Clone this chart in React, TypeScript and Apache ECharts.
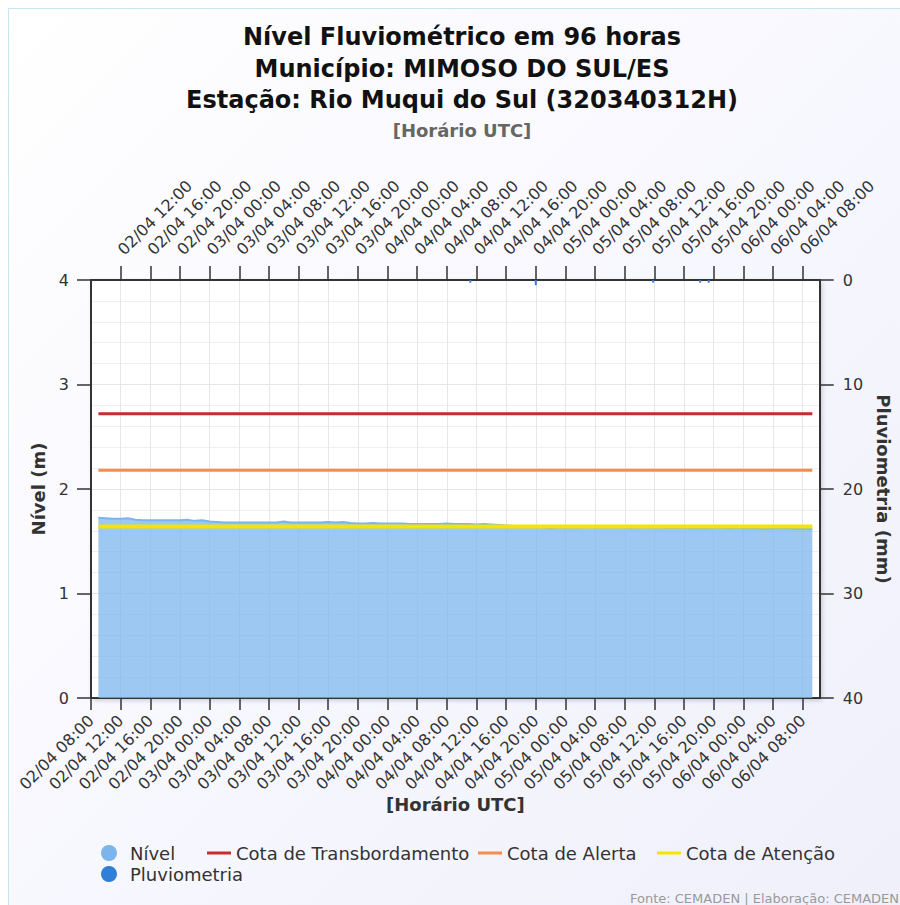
import React, { useEffect, useRef } from "react";
import * as echarts from "echarts";

// ---- data ----
const tickHours = [0, 4, 8, 12, 16, 20, 24, 28, 32, 36, 40, 44, 48, 52, 56, 60, 64, 68, 72, 76, 80, 84, 88, 92, 96];
const tickLabels = [
  "02/04 08:00", "02/04 12:00", "02/04 16:00", "02/04 20:00",
  "03/04 00:00", "03/04 04:00", "03/04 08:00", "03/04 12:00", "03/04 16:00", "03/04 20:00",
  "04/04 00:00", "04/04 04:00", "04/04 08:00", "04/04 12:00", "04/04 16:00", "04/04 20:00",
  "05/04 00:00", "05/04 04:00", "05/04 08:00", "05/04 12:00", "05/04 16:00", "05/04 20:00",
  "06/04 00:00", "06/04 04:00", "06/04 08:00",
];

// river level (m): hours since 02/04 08:00 and values
const nivelHours = [
  1, 2, 3, 4, 5, 6, 7, 8, 9, 10,
  11, 12, 13, 14, 15, 16, 17, 18, 19, 20,
  21, 22, 23, 24, 25, 26, 27, 28, 29, 30,
  31, 32, 33, 34, 35, 36, 37, 38, 39, 40,
  41, 42, 43, 44, 45, 46, 47, 48, 49, 50,
  51, 52, 53, 54, 55, 56, 57, 58, 59, 60,
  61, 62, 63, 64, 65, 66, 67, 68, 69, 70,
  71, 72, 73, 74, 75, 76, 77, 78, 79, 80,
  81, 82, 83, 84, 85, 86, 87, 88, 89, 90,
  91, 92, 93, 94, 95, 96, 97, 97.3,
];
const nivelValues = [
  1.725, 1.72, 1.715, 1.715, 1.72, 1.705, 1.7, 1.7, 1.7, 1.7,
  1.7, 1.7, 1.705, 1.695, 1.7, 1.69, 1.685, 1.68, 1.68, 1.68,
  1.68, 1.68, 1.68, 1.68, 1.68, 1.69, 1.68, 1.68, 1.68, 1.68,
  1.68, 1.685, 1.68, 1.685, 1.675, 1.67, 1.67, 1.675, 1.67, 1.67,
  1.67, 1.67, 1.665, 1.665, 1.665, 1.665, 1.665, 1.67, 1.665, 1.665,
  1.665, 1.66, 1.665, 1.66, 1.655, 1.65, 1.645, 1.645, 1.64, 1.64,
  1.635, 1.625, 1.635, 1.635, 1.628, 1.635, 1.64, 1.635, 1.635, 1.635,
  1.635, 1.635, 1.63, 1.635, 1.635, 1.635, 1.63, 1.63, 1.63, 1.63,
  1.625, 1.625, 1.625, 1.63, 1.63, 1.625, 1.63, 1.625, 1.625, 1.625,
  1.62, 1.625, 1.625, 1.625, 1.62, 1.62, 1.62, 1.62,
];

const cotaTransbordamento = 2.72;
const cotaAlerta = 2.18;
const cotaAtencao = 1.64;

// rainfall (mm)
const chuvaHours = [51.17, 60.0, 75.83, 82.17, 83.33];
const chuvaValues = [0.25, 0.5, 0.25, 0.25, 0.25];

const FONT = "'DejaVu Sans', sans-serif";

export default function App() {
  const ref = useRef<HTMLDivElement>(null);

  useEffect(() => {
    if (!ref.current) return;
    const chart = echarts.init(ref.current, undefined, { renderer: "svg" });

    const nivelData = nivelHours.map((h, i) => [h, nivelValues[i]]);
    const firstH = nivelHours[0];
    const lastH = nivelHours[nivelHours.length - 1];
    const flat = (v: number) => [[firstH, v], [lastH, v]];
    const chuvaData = chuvaHours.map((h, i) => [h, chuvaValues[i]]);

    const fmt = (v: number) => {
      const idx = tickHours.indexOf(Math.round(v));
      return idx >= 0 ? tickLabels[idx] : "";
    };

    const linePath = "path://M0,0L24,0L24,3L0,3Z";
    const legendBase = {
      orient: "horizontal",
      itemWidth: 24,
      itemHeight: 16,
      itemGap: 0,
      padding: 0,
      selectedMode: false,
      itemStyle: { borderWidth: 0 },
      textStyle: { fontSize: 18, color: "#333", fontFamily: FONT },
    };

    const option: any = {
      animation: false,
      textStyle: { fontFamily: FONT },
      grid: {
        left: 82,
        right: 78,
        top: 271,
        bottom: 207,
        show: true,
        backgroundColor: "#ffffff",
        borderWidth: 0,
        shadowColor: "rgba(0,0,0,0.22)",
        shadowBlur: 5,
        shadowOffsetX: 2,
        shadowOffsetY: 2,
      },
      xAxis: [
        {
          type: "value",
          position: "bottom",
          min: 0,
          max: 98.3,
          interval: 4,
          axisLine: { show: true, onZero: false, lineStyle: { color: "#333", width: 2 } },
          axisTick: { show: true, length: 12, customValues: tickHours, lineStyle: { color: "#333", width: 1.5 } },
          axisLabel: {
            customValues: tickHours,
            rotate: 45,
            margin: 20,
            fontSize: 16,
            color: "#333",
            fontFamily: FONT,
            formatter: fmt,
          },
          splitLine: { show: true, lineStyle: { color: "#e6e6e6", width: 1 } },
          name: "[Horário UTC]",
          nameLocation: "middle",
          nameGap: 96,
          nameTextStyle: { fontSize: 18, fontWeight: "bold", color: "#333", fontFamily: FONT },
        },
        {
          type: "value",
          position: "top",
          min: 0,
          max: 98.3,
          interval: 4,
          axisLine: { show: true, onZero: false, lineStyle: { color: "#333", width: 2 } },
          axisTick: { show: true, length: 14, customValues: tickHours.slice(1), lineStyle: { color: "#333", width: 1.5 } },
          axisLabel: {
            customValues: tickHours.slice(1),
            rotate: -45,
            margin: 28,
            fontSize: 16,
            color: "#333",
            fontFamily: FONT,
            formatter: fmt,
          },
          splitLine: { show: false },
        },
      ],
      yAxis: [
        {
          type: "value",
          position: "left",
          min: 0,
          max: 4,
          interval: 1,
          axisLine: { show: true, onZero: false, lineStyle: { color: "#333", width: 2 } },
          axisTick: { show: true, length: 14, lineStyle: { color: "#333", width: 1.5 } },
          axisLabel: { margin: 22, fontSize: 16, color: "#333", fontFamily: FONT },
          splitLine: { show: true, lineStyle: { color: "#e6e6e6", width: 1 } },
          minorTick: { show: false, splitNumber: 5 },
          minorSplitLine: { show: true, lineStyle: { color: "#efefef", width: 1 } },
          name: "Nível (m)",
          nameLocation: "middle",
          nameGap: 42,
          nameTextStyle: { fontSize: 18, fontWeight: "bold", color: "#333", fontFamily: FONT },
        },
        {
          type: "value",
          position: "right",
          min: 0,
          max: 40,
          interval: 10,
          inverse: true,
          axisLine: { show: true, onZero: false, lineStyle: { color: "#333", width: 2 } },
          axisTick: { show: true, length: 14, lineStyle: { color: "#333", width: 1.5 } },
          axisLabel: { margin: 23, fontSize: 16, color: "#333", fontFamily: FONT },
          splitLine: { show: false },
          name: "Pluviometria (mm)",
          nameLocation: "middle",
          nameRotate: -90,
          nameGap: 53,
          nameTextStyle: { fontSize: 18, fontWeight: "bold", color: "#333", fontFamily: FONT },
        },
      ],
      legend: [
        { ...legendBase, left: 92, top: 835, data: [{ name: "Nível", icon: "circle", textStyle: { padding: [0, 0, 0, 4] } }] },
        { ...legendBase, left: 198, top: 835, data: [{ name: "Cota de Transbordamento", icon: linePath }] },
        { ...legendBase, left: 469, top: 835, data: [{ name: "Cota de Alerta", icon: linePath }] },
        { ...legendBase, left: 648, top: 835, data: [{ name: "Cota de Atenção", icon: linePath }] },
        { ...legendBase, left: 92, top: 856, data: [{ name: "Pluviometria", icon: "circle", textStyle: { padding: [0, 0, 0, 4] } }] },
      ],
      graphic: [
        { type: "text", x: 453, y: 28, style: { text: "Nível Fluviométrico em 96 horas", textAlign: "center", textVerticalAlign: "middle", font: `bold 24px ${FONT}`, fill: "#111" } },
        { type: "text", x: 453, y: 60, style: { text: "Município: MIMOSO DO SUL/ES", textAlign: "center", textVerticalAlign: "middle", font: `bold 24px ${FONT}`, fill: "#111" } },
        { type: "text", x: 453, y: 91, style: { text: "Estação: Rio Muqui do Sul (320340312H)", textAlign: "center", textVerticalAlign: "middle", font: `bold 24px ${FONT}`, fill: "#111" } },
        { type: "text", x: 453, y: 121, style: { text: "[Horário UTC]", textAlign: "center", textVerticalAlign: "middle", font: `bold 18px ${FONT}`, fill: "#666" } },
        { type: "text", x: 890, y: 889, style: { text: "Fonte: CEMADEN | Elaboração: CEMADEN", textAlign: "right", textVerticalAlign: "middle", font: `13px ${FONT}`, fill: "#999" } },
      ],
      series: [
        {
          name: "Nível",
          type: "line",
          xAxisIndex: 0,
          yAxisIndex: 0,
          data: nivelData,
          symbol: "none",
          lineStyle: { color: "#7cb5ec", width: 2 },
          itemStyle: { color: "#7cb5ec" },
          areaStyle: { color: "#7cb5ec", opacity: 0.75 },
          z: 2,
        },
        {
          name: "Cota de Transbordamento",
          type: "line",
          data: flat(cotaTransbordamento),
          symbol: "none",
          lineStyle: { color: "#c62d2d", width: 3 },
          itemStyle: { color: "#c62d2d" },
          z: 3,
        },
        {
          name: "Cota de Alerta",
          type: "line",
          data: flat(cotaAlerta),
          symbol: "none",
          lineStyle: { color: "#f28e4c", width: 3 },
          itemStyle: { color: "#f28e4c" },
          z: 3,
        },
        {
          name: "Cota de Atenção",
          type: "line",
          data: flat(cotaAtencao),
          symbol: "none",
          lineStyle: { color: "#f5e400", width: 4 },
          itemStyle: { color: "#f5e400" },
          z: 4,
        },
        {
          name: "Pluviometria",
          type: "bar",
          xAxisIndex: 0,
          yAxisIndex: 1,
          data: chuvaData,
          barWidth: 2,
          itemStyle: { color: "#2f7ed8" },
          z: 5,
        },
      ],
    };

    chart.setOption(option);
    return () => chart.dispose();
  }, []);

  return (
    <div
      style={{
        position: "fixed",
        left: 8,
        top: 8,
        width: 930,
        height: 930,
        border: "1px solid #c5e6ef",
        background: "linear-gradient(135deg, #ffffff 0%, #f7f7fe 50%, #efeffb 100%)",
        boxSizing: "border-box",
      }}
    >
      <div ref={ref} style={{ width: 891, height: 896 }} />
    </div>
  );
}
